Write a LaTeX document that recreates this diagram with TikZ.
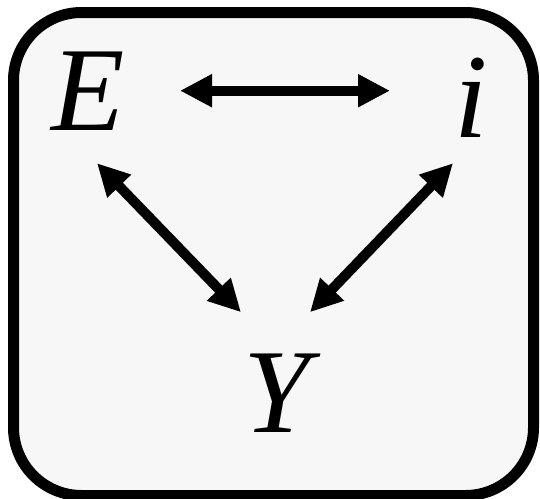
\documentclass[tikz,border=0pt]{standalone}
\usepackage{fontspec}
\setmainfont{Liberation Serif}
\usetikzlibrary{arrows.meta}
\definecolor{panel}{HTML}{F7F7F7}

\begin{document}
\begin{tikzpicture}[x=1pt, y=-1pt,
        var/.style={font=\fontsize{120}{120}\selectfont\itshape, inner sep=0pt, anchor=base},
        link/.style={line width=10pt, {Triangle[length=32pt,width=31pt]}-{Triangle[length=32pt,width=31pt]}}]
            \useasboundingbox (0,0) rectangle (540,498);
            \draw[line width=11pt, rounded corners=68pt, fill=panel] (13.5,12.5) rectangle (533.5,495.5);
            \node[var] (E) at (88,130) {E};
            \node[var] (i) at (471,137) {i};
            \node[var] (Y) at (277,432) {Y};
            \draw[link] ([xshift=92pt]E.center) -- ([xshift=-81pt]E.center -| i.center);
            \draw[link] ([shift={(9,33)}]E.south) -- ([shift={(-36,-41)}]Y.north);
            \draw[link] ([shift={(-18,26)}]i.south) -- ([shift={(33,-41)}]Y.north);
        \end{tikzpicture}
\end{document}
